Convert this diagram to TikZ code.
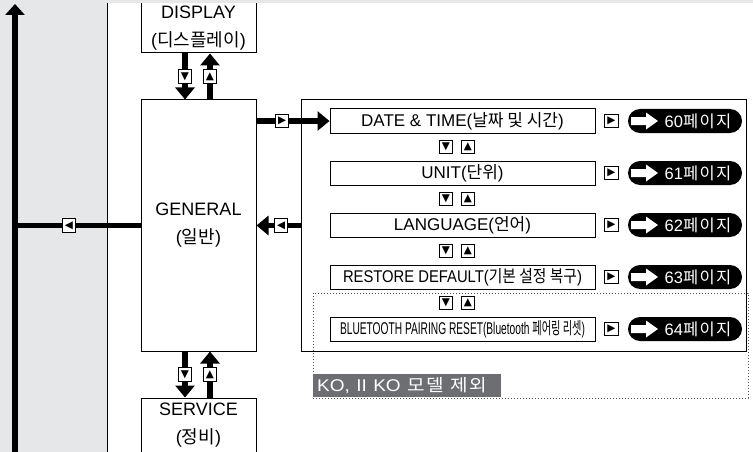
\documentclass[tikz,border=0pt]{standalone}
\usepackage{fontspec}
\usepackage{graphicx}
\setmainfont{Liberation Sans}
\newfontfamily\kr{Noto Sans CJK KR}
\newfontfamily\krw{Noto Sans CJK KR}[LetterSpace=8]
\newfontfamily\sym{DejaVu Sans}
\usetikzlibrary{arrows.meta, positioning}
\definecolor{mPanel}{HTML}{E6E7E8}
\definecolor{mLabel}{HTML}{6D6E71}
\definecolor{mDot}{HTML}{555555}
\newcommand{\ko}[1]{{\kr #1}}
\newcommand{\kow}[1]{{\krw #1}}
\newcommand{\narrow}[2]{\scalebox{#1}[1]{#2}}

\begin{document}
\begin{tikzpicture}[x=1pt, y=-1pt,
      box/.style={draw, fill=white, line width=1pt, minimum width=115pt, inner sep=0pt, align=center, font=\fontsize{18}{28}\selectfont},
      item/.style={draw, fill=white, line width=1pt, minimum width=265pt, minimum height=24pt, inner sep=0pt, font=\fontsize{17}{17}\selectfont},
      key/.style={draw, fill=white, line width=1pt, minimum size=13.5pt, inner sep=0pt, font=\sym\fontsize{10.5}{10.5}\selectfont},
      pill/.style={fill=black, rounded corners=12pt, minimum width=114pt, minimum height=24pt, inner sep=0pt, text=white, font=\fontsize{16.5}{16.5}\selectfont,
        path picture={\fill[white, sharp corners] ([xshift=3pt, yshift=4pt]path picture bounding box.west) -- ++(15pt,0) -- ++(0,4.5pt) -- ++(12pt,-8.5pt) -- ++(-12pt,-8.5pt) -- ++(0,4.5pt) -- ++(-15pt,0) -- cycle;}},
      flow/.style={line width=5.5pt, -{Triangle[length=12pt, width=19pt]}},
      link/.style={line width=5.5pt}]
    \useasboundingbox (0,0) rectangle (753,452);
    \fill[mPanel] (0,0) rectangle (107,452);
    \draw[line width=0.9pt] (107,3) -- (107,452);
    % menu boxes
    \node[box, minimum height=50pt] (disp) at (198.5,28) {DISPLAY\\(\ko{디스플레이})};
    \node[box, minimum height=251pt] (gen) at (198.5,225.5) {GENERAL\\(\ko{일반})};
    \node[box, minimum height=54pt] (serv) at (198.5,425) {SERVICE\\(\ko{정비})};
    \node[draw, line width=1pt, minimum width=445pt, minimum height=251pt] (panel) at (523.5,225.5) {};
    \node[item] (date) at (462.5,121) {DATE \& TIME(\ko{날짜 및 시간})};
    \node[item] (unit) at (462.5,173) {UNIT(\ko{단위})};
    \node[item] (lang) at (462.5,225) {LANGUAGE(\ko{언어})};
    \node[item] (rest) at (462.5,277) {\narrow{0.87}{RESTORE DEFAULT(\ko{기본 설정 복구})}};
    \node[item] (bt) at (462.5,329) {\narrow{0.6}{BLUETOOTH PAIRING RESET(Bluetooth \ko{페어링 리셋})}};
    % up/down keys
    \node[key] (k1d) at (446,147) {▼}; \node[key] (k1u) at (468,147) {▲};
    \node[key] (k2d) at (446,199) {▼}; \node[key] (k2u) at (468,199) {▲};
    \node[key] (k3d) at (446,251) {▼}; \node[key] (k3u) at (468,251) {▲};
    \node[key] (k4d) at (446,303) {▼}; \node[key] (k4u) at (468,303) {▲};
    % page references
    \node[key] (g1) at (611.5,121) {▶}; \node[pill] (p1) at (685,121) {\hspace*{26pt}60\kow{페이지}};
    \node[key] (g2) at (611.5,173) {▶}; \node[pill] (p2) at (685,173) {\hspace*{26pt}61\kow{페이지}};
    \node[key] (g3) at (611.5,225) {▶}; \node[pill] (p3) at (685,225) {\hspace*{26pt}62\kow{페이지}};
    \node[key] (g4) at (611.5,277) {▶}; \node[pill] (p4) at (685,277) {\hspace*{26pt}63\kow{페이지}};
    \node[key] (g5) at (611.5,329) {▶}; \node[pill] (p5) at (685,329) {\hspace*{26pt}64\kow{페이지}};
    % connectors
    \draw[flow] ([xshift=-13.5pt]disp.south) -- node[key] (kdd) {▼} ([xshift=-13.5pt]gen.north);
    \draw[flow] ([xshift=11.5pt]gen.north) -- node[key] (kdu) {▲} ([xshift=11.5pt]disp.south);
    \draw[flow] ([xshift=-13.5pt]gen.south) -- node[key] (ksd) {▼} ([xshift=-13.5pt]serv.north);
    \draw[flow] ([xshift=11.5pt]serv.north) -- node[key] (ksu) {▲} ([xshift=11.5pt]gen.south);
    \draw[flow] (gen.east |- date.west) -- node[key, pos=.35] (kin) {▶} (date.west);
    \draw[flow] (panel.west) -- node[key, pos=.44] (kback) {◀} (gen.east);
    \coordinate (lb) at (15,452);
    \coordinate (lt) at (15,4);
    \draw[flow, -{Triangle[length=11pt, width=19pt]}] (lb) -- (lt);
    \draw[link] (gen.west) -- node[key, pos=.57] (kout) {◀} (gen.west -| lb);
    % model note
    \draw[mDot, line width=1pt, dash pattern=on 1.3pt off 1.7pt] (313,293) rectangle (748,398);
    \node[fill=mLabel, text=white, anchor=south west, text width=180pt, align=left, inner xsep=4pt, minimum height=21pt, font=\fontsize{17}{17}\selectfont] (excl) at (313,397) {\narrow{1.12}{KO, II KO \kow{모델 제외}}};
    \fill[mPanel] (0,0) rectangle (753,3);
  \end{tikzpicture}
\end{document}
